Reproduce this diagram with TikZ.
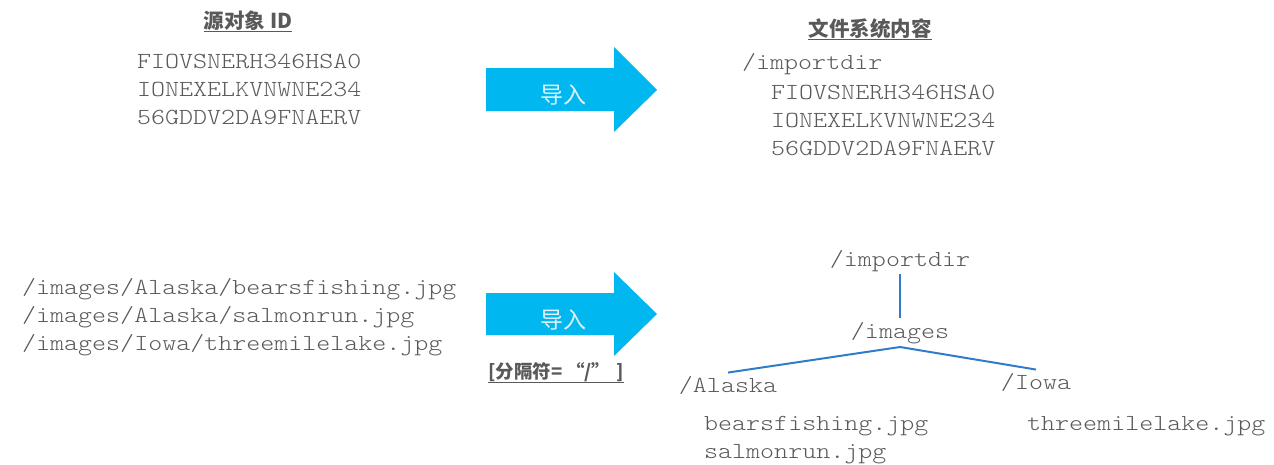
\documentclass[tikz,border=0pt]{standalone}
\usepackage{fontspec}
\newfontfamily\monofnt{lmmonolt10-regular.otf}[FakeStretch=1.16]
\newfontfamily\cjkfnt{Noto Sans CJK SC}
\definecolor{arrowcyan}{RGB}{0,183,240}
\definecolor{txtgray}{RGB}{89,89,89}
\definecolor{treeblue}{RGB}{47,125,200}
\definecolor{lbllight}{RGB}{225,242,250}
\tikzset{
  mono/.style={font=\monofnt\fontsize{23}{28}\selectfont, text=txtgray, inner sep=0pt, text height=13.5pt, text depth=0pt},
  monol/.style={mono, anchor=west},
  treenode/.style={mono, anchor=center, inner sep=7pt},
  heading/.style={font=\cjkfnt\bfseries\fontsize{20.5}{24}\selectfont, text=txtgray, inner sep=0pt, text height=15pt, text depth=2pt},
  ulinestyle/.style={draw=txtgray, line width=1pt},
  arrowshape/.style={fill=arrowcyan, draw=none},
  arrowlabel/.style={font=\cjkfnt\fontsize{23}{26}\selectfont, text=lbllight, inner sep=0pt},
  treeline/.style={draw=treeblue, line width=2pt},
}
\begin{document}
\begin{tikzpicture}[x=1pt,y=-1pt]
\useasboundingbox (0,0) rectangle (1274,464);

% headings
\node[heading] (h1) at (248,22) {源对象 ID};
\draw[ulinestyle] ([yshift=-1pt]h1.south west) -- ([yshift=-1pt]h1.south east);
\node[heading] (h2) at (870,30) {文件系统内容};
\draw[ulinestyle] ([yshift=-1pt]h2.south west) -- ([yshift=-1pt]h2.south east);

% top left ids
\node[monol] (a1) at (137,62) {FIOVSNERH346HSA0};
\node[monol] (a2) at (137,90) {IONEXELKVNWNE234};
\node[monol] (a3) at (137,118) {56GDDV2DA9FNAERV};

% top arrow
\fill[arrowshape] (486,68) -- (614,68) -- (614,47) -- (657,90) -- (614,132) -- (614,111) -- (486,111) -- cycle;
\node[arrowlabel] (l1) at (563,95) {导入};

% top right
\node[monol] (b0) at (742,63) {/importdir};
\node[monol] (b1) at (771,93) {FIOVSNERH346HSA0};
\node[monol] (b2) at (771,121) {IONEXELKVNWNE234};
\node[monol] (b3) at (771,149) {56GDDV2DA9FNAERV};

% bottom left paths
\node[monol] (c1) at (22,288) {/images/Alaska/bearsfishing.jpg};
\node[monol] (c2) at (22,316) {/images/Alaska/salmonrun.jpg};
\node[monol] (c3) at (22,344) {/images/Iowa/threemilelake.jpg};

% bottom arrow
\fill[arrowshape] (486,293) -- (614,293) -- (614,272) -- (657,314) -- (614,356) -- (614,335) -- (486,335) -- cycle;
\node[arrowlabel] (l2) at (563,320) {导入};
\node[heading, font=\cjkfnt\bfseries\fontsize{18.5}{22}\selectfont, text height=13pt, text depth=2pt, anchor=west] (sep) at (488,373) {[分隔符=\hspace{4pt}“/”\hspace{6pt}]};
\draw[ulinestyle] ([yshift=-2pt]sep.south west) -- ([yshift=-2pt]sep.south east);

% tree
\node[treenode] (t0) at (900,260) {/importdir};
\node[treenode] (t1) at (900,332) {/images};
\node[treenode, inner sep=6.5pt] (t2) at (728,386) {/Alaska};
\node[treenode, inner sep=6.5pt] (t3) at (1036,383) {/Iowa};
\coordinate (br) at (900,347);
\draw[treeline] (t0.south) -- (t1.north);
\draw[treeline] (br) -- (t2.north);
\draw[treeline] (br) -- (t3.north);

\node[monol] (f1) at (704,424) {bearsfishing.jpg};
\node[monol] (f2) at (704,452) {salmonrun.jpg};
\node[monol] (f3) at (1027,424) {threemilelake.jpg};
\end{tikzpicture}
\end{document}
